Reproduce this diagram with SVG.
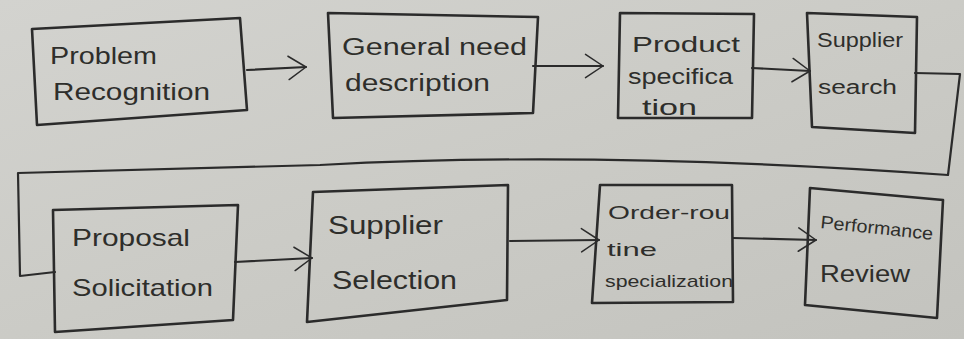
<svg xmlns="http://www.w3.org/2000/svg" width="964" height="339" viewBox="0 0 964 339">
<defs>
<linearGradient id="paper" x1="0" y1="0" x2="1" y2="1">
<stop offset="0" stop-color="#d3d3cf"/>
<stop offset="0.5" stop-color="#cbcbc6"/>
<stop offset="1" stop-color="#c3c3be"/>
</linearGradient>
<marker id="arr" viewBox="0 0 12 12" refX="11" refY="6" markerWidth="10" markerHeight="10" markerUnits="userSpaceOnUse" orient="auto" overflow="visible">
<path d="M-10,-8 L11,6 L-10,20" fill="none" stroke="#2b2b2b" stroke-width="1.8" stroke-linecap="round" stroke-linejoin="round"/>
</marker>
<style>
.box{fill:none;stroke:#2b2b2b;stroke-width:2.6;stroke-linejoin:round}
.con{fill:none;stroke:#2b2b2b;stroke-width:2.2;stroke-linecap:round;stroke-linejoin:round}
.t{font-family:"Liberation Sans","DejaVu Sans",sans-serif;fill:#2e2e2b}
</style>
</defs>
<rect width="964" height="339" fill="url(#paper)"/>

<g id="connectors">
<path class="con" d="M247,70 L306,67" marker-end="url(#arr)"/>
<path class="con" d="M533,66 L603,66" marker-end="url(#arr)"/>
<path class="con" d="M752,68 L810,71" marker-end="url(#arr)"/>
<path class="con" d="M915,73 L960,74 L948,175 Q600,150 320,165 L18,173 L20,276 L55,272"/>
<path class="con" d="M235,262 L312,258" marker-end="url(#arr)"/>
<path class="con" d="M510,241 L599,240" marker-end="url(#arr)"/>
<path class="con" d="M733,238 L816,240" marker-end="url(#arr)"/>
</g>

<g id="problem-recognition">
<polygon class="box" points="32,29 240,18 247,110 37,125"/>
<text class="t" x="50" y="64" font-size="24" textLength="107" lengthAdjust="spacingAndGlyphs">Problem</text>
<text class="t" x="53" y="100" font-size="24" textLength="157" lengthAdjust="spacingAndGlyphs">Recognition</text>
</g>

<g id="general-need-description">
<polygon class="box" points="328,13 538,17 533,113 333,118"/>
<text class="t" x="342" y="55" font-size="23" textLength="185" lengthAdjust="spacingAndGlyphs">General need</text>
<text class="t" x="345" y="91" font-size="23" textLength="145" lengthAdjust="spacingAndGlyphs">description</text>
</g>

<g id="product-specification">
<polygon class="box" points="620,13 754,14 752,118 618,118"/>
<text class="t" x="632" y="52" font-size="22" textLength="108" lengthAdjust="spacingAndGlyphs">Product</text>
<text class="t" x="628" y="84" font-size="22" textLength="105" lengthAdjust="spacingAndGlyphs">specifica</text>
<text class="t" x="642" y="115" font-size="22" textLength="55" lengthAdjust="spacingAndGlyphs">tion</text>
</g>

<g id="supplier-search">
<polygon class="box" points="807,13 917,17 915,133 812,127"/>
<text class="t" x="817" y="47" font-size="20" textLength="86" lengthAdjust="spacingAndGlyphs">Supplier</text>
<text class="t" x="818" y="94" font-size="20" textLength="79" lengthAdjust="spacingAndGlyphs">search</text>
</g>

<g id="proposal-solicitation">
<polygon class="box" points="53,210 238,205 233,320 55,332"/>
<text class="t" x="72" y="246" font-size="24" textLength="118" lengthAdjust="spacingAndGlyphs">Proposal</text>
<text class="t" x="72" y="296" font-size="24" textLength="141" lengthAdjust="spacingAndGlyphs">Solicitation</text>
</g>

<g id="supplier-selection">
<polygon class="box" points="313,192 508,185 507,300 307,322"/>
<text class="t" x="328" y="234" font-size="26" textLength="115" lengthAdjust="spacingAndGlyphs">Supplier</text>
<text class="t" x="332" y="289" font-size="26" textLength="125" lengthAdjust="spacingAndGlyphs">Selection</text>
</g>

<g id="order-routine-specification">
<polygon class="box" points="600,185 732,185 733,302 592,303"/>
<text class="t" x="608" y="219" font-size="18" textLength="122" lengthAdjust="spacingAndGlyphs">Order-rou</text>
<text class="t" x="607" y="256" font-size="19" textLength="50" lengthAdjust="spacingAndGlyphs">tine</text>
<text class="t" x="605" y="287" font-size="17" textLength="128" lengthAdjust="spacingAndGlyphs">specialization</text>
</g>

<g id="performance-review">
<polygon class="box" points="810,188 943,200 937,318 805,305"/>
<text class="t" x="820" y="228" font-size="18" textLength="113" lengthAdjust="spacingAndGlyphs" transform="rotate(6 820 228)">Performance</text>
<text class="t" x="820" y="282" font-size="24" textLength="90" lengthAdjust="spacingAndGlyphs">Review</text>
</g>
</svg>
